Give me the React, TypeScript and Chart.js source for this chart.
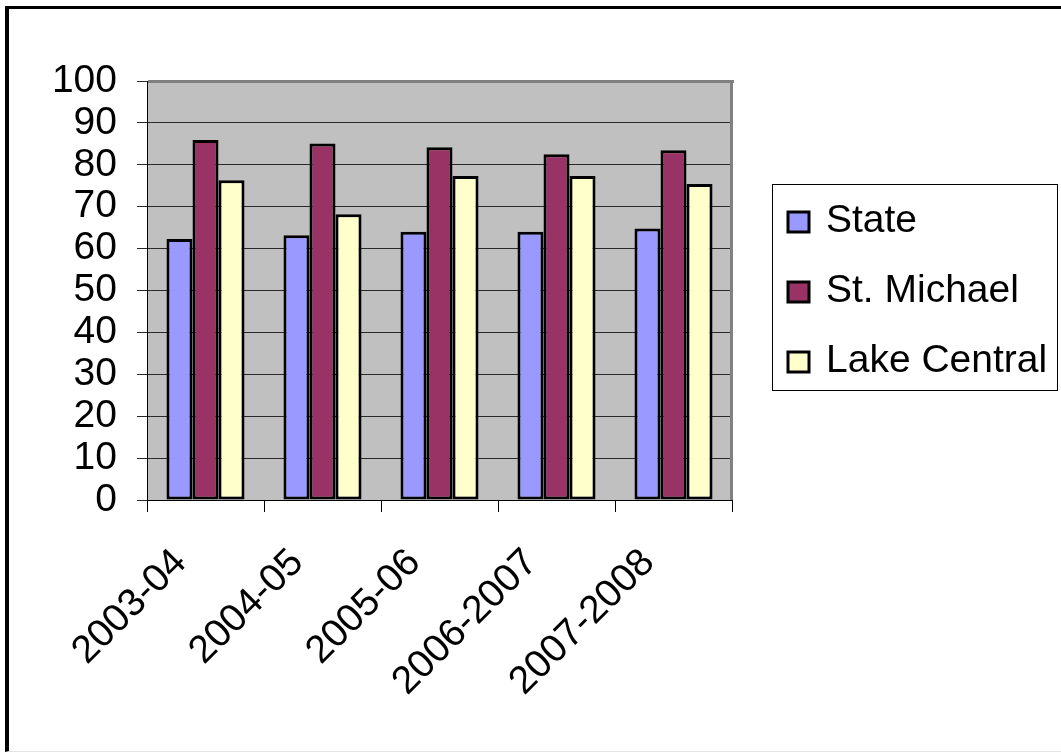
import React, { useEffect, useRef } from "react";
import { Chart, registerables } from "chart.js";

Chart.register(...registerables);

// School years on the category axis
const categories = ["2003-04", "2004-05", "2005-06", "2006-2007", "2007-2008"];

// Percent values per series
const stateValues = [62.3, 63.2, 64.0, 64.0, 64.8];
const stMichaelValues = [85.9, 85.1, 84.2, 82.5, 83.5];
const lakeCentralValues = [76.3, 68.2, 77.3, 77.3, 75.4];

const seriesNames = ["State", "St. Michael", "Lake Central"];
const seriesColors = ["#9999FF", "#993366", "#FFFFCC"];

const yMin = 0;
const yMax = 100;
const yStep = 10;

const FONT = "'Liberation Sans', Arial, Helvetica, sans-serif";
const FONT_SIZE = 39;
const W = 1061;
const H = 753;

// Gray plot background with darker gray top/right edges
const plotFramePlugin = {
  id: "plotFrame",
  beforeDraw(chart: any) {
    const { ctx, chartArea: a } = chart;
    ctx.save();
    ctx.fillStyle = "#C0C0C0";
    ctx.fillRect(a.left, a.top, a.right - a.left, a.bottom - a.top);
    ctx.restore();
  },
  beforeDatasetsDraw(chart: any) {
    const { ctx, chartArea: a } = chart;
    ctx.save();
    ctx.fillStyle = "#808080";
    ctx.fillRect(a.left + 1, a.top - 1, a.right - a.left + 1, 3);
    ctx.fillRect(a.right - 2, a.top - 1, 3, a.bottom - a.top + 1);
    ctx.restore();
  },
};

// Boxed legend to the right of the plot
const boxedLegendPlugin = {
  id: "boxedLegend",
  afterDraw(chart: any) {
    const { ctx } = chart;
    const boxX = 772;
    const boxY = 184;
    const boxW = 285;
    const boxH = 206;
    const rowGap = 70;
    ctx.save();
    ctx.strokeStyle = "#000";
    ctx.lineWidth = 1;
    ctx.strokeRect(boxX + 0.5, boxY + 0.5, boxW, boxH);
    ctx.font = `${FONT_SIZE}px ${FONT}`;
    ctx.textAlign = "left";
    ctx.textBaseline = "alphabetic";
    chart.data.datasets.forEach((ds: any, i: number) => {
      const base = 232 + i * rowGap;
      ctx.fillStyle = ds.backgroundColor;
      ctx.fillRect(788, base - 20, 21, 20);
      ctx.strokeStyle = "#000";
      ctx.lineWidth = 3;
      ctx.strokeRect(788, base - 20, 21, 20);
      ctx.fillStyle = "#000";
      ctx.fillText(ds.label, 826, base);
    });
    ctx.restore();
  },
};

export default function App() {
  const canvasRef = useRef<HTMLCanvasElement | null>(null);

  useEffect(() => {
    const canvas = canvasRef.current;
    if (!canvas) return;
    const seriesValues = [stateValues, stMichaelValues, lakeCentralValues];
    const chart = new Chart(canvas, {
      type: "bar",
      data: {
        labels: categories,
        datasets: seriesNames.map((name, i) => ({
          label: name,
          data: seriesValues[i],
          backgroundColor: seriesColors[i],
          borderColor: "#000",
          borderWidth: 3,
          borderSkipped: false,
          categoryPercentage: 0.667,
          barPercentage: 1.0,
        })),
      },
      options: {
        animation: false,
        responsive: false,
        devicePixelRatio: 1,
        layout: { padding: { left: 0, top: 81, right: W - 732, bottom: 0 } },
        plugins: {
          legend: { display: false },
          tooltip: { enabled: false },
        },
        scales: {
          x: {
            type: "category",
            offset: true,
            afterFit(scale: any) {
              scale.height = H - 500;
            },
            grid: {
              offset: true,
              drawOnChartArea: false,
              drawTicks: true,
              tickLength: 12,
              color: "#000",
              lineWidth: 1,
            },
            border: { display: true, color: "#000", width: 1 },
            ticks: {
              autoSkip: false,
              minRotation: 45,
              maxRotation: 45,
              padding: 28,
              labelOffset: -25,
              color: "#000",
              font: { family: FONT, size: FONT_SIZE },
            },
          },
          y: {
            min: yMin,
            max: yMax,
            afterFit(scale: any) {
              scale.width = 147;
            },
            grid: {
              color: "#2a2a2a",
              lineWidth: 1,
              drawTicks: true,
              tickLength: 10,
            },
            border: { display: true, color: "#000", width: 1 },
            ticks: {
              stepSize: yStep,
              autoSkip: false,
              padding: 20,
              color: "#000",
              font: { family: FONT, size: FONT_SIZE },
            },
          },
        },
      },
      plugins: [plotFramePlugin, boxedLegendPlugin],
    });
    return () => chart.destroy();
  }, []);

  return (
    <div
      style={{
        position: "fixed",
        left: 0,
        top: 0,
        width: W,
        height: H,
        background: "#fff",
        overflow: "hidden",
      }}
    >
      <div
        style={{
          position: "absolute",
          left: 5,
          top: 6,
          width: 1100,
          height: 746,
          boxSizing: "border-box",
          borderLeft: "4px solid #000",
          borderTop: "3px solid #000",
          borderBottom: "1px solid #e4e4e4",
        }}
      />
      <canvas
        ref={canvasRef}
        width={W}
        height={H}
        style={{ position: "absolute", left: 0, top: 0, width: W, height: H }}
      />
    </div>
  );
}
